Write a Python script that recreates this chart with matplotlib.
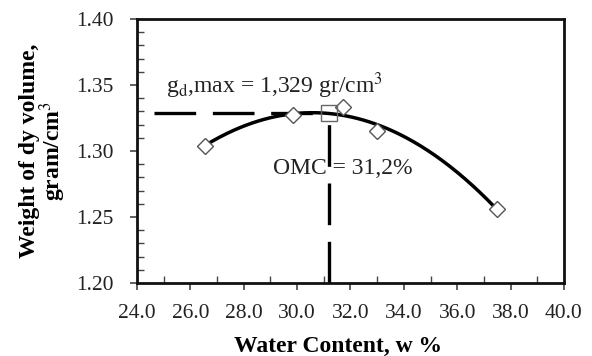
import matplotlib
matplotlib.use("Agg")
import matplotlib.pyplot as plt
from matplotlib.ticker import MultipleLocator, FormatStrFormatter
import numpy as np

plt.rcParams['font.family'] = ['Liberation Serif', 'DejaVu Serif']
plt.rcParams['mathtext.fontset'] = 'stix'

# measured points (water content %, dry density gr/cm3)
water_content = [26.55, 29.85, 31.73, 32.98, 37.5]
dry_density = [1.304, 1.327, 1.333, 1.315, 1.256]

# optimum point
omc = 31.2
gd_max = 1.329

# quadratic trend line through the measured points
coef = np.polyfit(water_content, dry_density, 2)
xs = np.linspace(min(water_content), max(water_content), 200)
ys = np.polyval(coef, xs)

fig = plt.figure(figsize=(5.92, 3.56), dpi=100)
ax = fig.add_axes([0.2314, 0.205, 0.7213, 0.7416])

lw = 2.4
dash = (30 / lw, 12 / lw)

# dashed guide lines to the optimum
ax.plot([24.65, omc], [gd_max, gd_max], color='black', lw=lw, dashes=dash, zorder=2)
ax.plot([omc, omc], [1.20, gd_max], color='black', lw=lw, dashes=dash, zorder=2)

ax.plot(xs, ys, color='black', lw=2.5, zorder=3)
ax.plot(water_content, dry_density, linestyle='none', marker='D', markersize=8,
        markerfacecolor='white', markeredgecolor='#555555', markeredgewidth=1.0, zorder=4)
ax.plot([omc], [gd_max], linestyle='none', marker='s', markersize=12,
        markerfacecolor='none', markeredgecolor='#666666', markeredgewidth=1.0, zorder=4)

ax.text(25.1, 1.344, r'g$_\mathrm{d}$,max = 1,329 gr/cm$^3$', fontsize=17, color='#222222')
ax.text(29.1, 1.287, 'OMC = 31,2%', fontsize=17, color='#222222', va='center')

ax.set_xlim(24, 40)
ax.set_ylim(1.20, 1.40)
ax.xaxis.set_major_locator(MultipleLocator(2))
ax.xaxis.set_minor_locator(MultipleLocator(1))
ax.yaxis.set_major_locator(MultipleLocator(0.05))
ax.yaxis.set_minor_locator(MultipleLocator(0.01))
ax.xaxis.set_major_formatter(FormatStrFormatter('%.1f'))
ax.yaxis.set_major_formatter(FormatStrFormatter('%.2f'))

ax.tick_params(which='major', direction='out', length=5, width=1.2,
               labelsize=15.5, labelcolor='#222222', color='#444444')
ax.tick_params(axis='y', which='major', pad=12)
ax.tick_params(axis='x', which='major', pad=10)
ax.tick_params(which='minor', direction='in', length=5, width=1.0, color='#444444')

for s in ax.spines.values():
    s.set_linewidth(2.0)
    s.set_color('#111111')

ax.set_xlabel('Water Content, w %', fontsize=17, fontweight='bold')
ax.xaxis.set_label_coords(0.47, -0.20)
ax.set_ylabel('Weight of dy volume,\ngram/cm$^3$', fontsize=17, fontweight='bold',
              labelpad=6, linespacing=0.85)

fig.savefig('out.png', dpi=100)
